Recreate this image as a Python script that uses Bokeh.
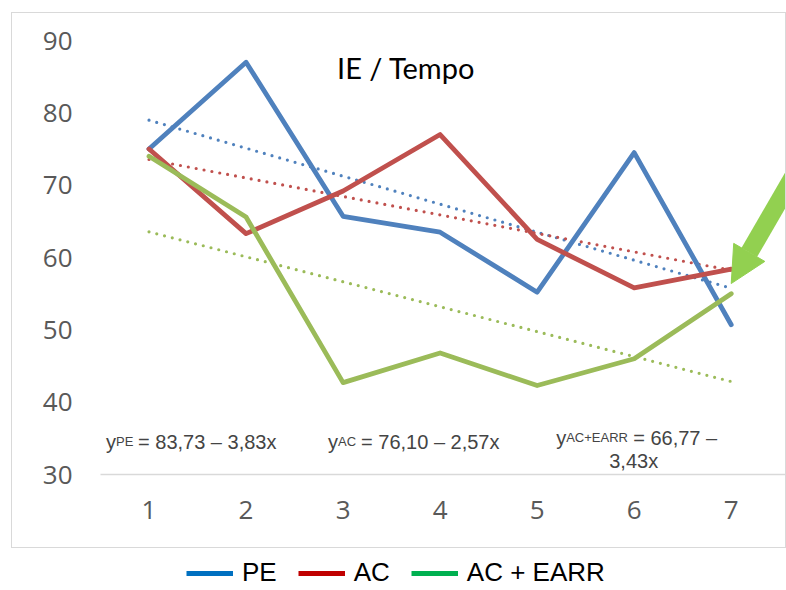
import numpy as np
from bokeh.plotting import figure
from bokeh.layouts import column
from bokeh.models import (Range1d, FixedTicker, Legend, LegendItem, Label, Arrow,
                          NormalHead)
from bokeh.embed import file_html
from bokeh.resources import INLINE

# ---- data ----
x_vals = [1, 2, 3, 4, 5, 6, 7]
pe = [75.0, 87.0, 65.7, 63.5, 55.2, 74.5, 50.7]
ac = [75.0, 63.3, 69.2, 77.0, 62.5, 55.8, 58.4]
ac_earr = [74.0, 65.6, 42.7, 46.8, 42.3, 46.0, 55.0]
series_names = ["PE", "AC", "AC + EARR"]
line_colors = ["#4F81BD", "#C0504D", "#9BBB59"]
legend_colors = ["#0070C0", "#C00000", "#00B050"]
y_ticks = [30, 40, 50, 60, 70, 80, 90]
title_text = "IE / Tempo"
eq_subs = ["PE", "AC", "AC+EARR"]
eq_rest = ["= 83,73 \u2013 3,83x", "= 76,10 \u2013 2,57x", "= 66,77 \u2013"]
eq3_line2 = "3,43x"

p = figure(width=775, height=536, output_backend="svg", toolbar_location=None,
           x_range=Range1d(0.5, 7.58), y_range=Range1d(30, 90),
           min_border_left=88, min_border_right=0, min_border_top=27,
           min_border_bottom=75)
p.margin = (12, 0, 0, 11)
p.styles = {"border": "1px solid #D9D9D9"}
p.outline_line_color = None
p.grid.grid_line_color = None
p.background_fill_color = "white"
p.border_fill_color = "white"

# axes
p.xaxis.ticker = FixedTicker(ticks=x_vals)
p.yaxis.ticker = FixedTicker(ticks=y_ticks)
for ax in (p.xaxis[0], p.yaxis[0]):
    ax.major_tick_line_color = None
    ax.minor_tick_line_color = None
    ax.major_label_text_font = "Open Sans"
    ax.major_label_text_font_size = "26px"
    ax.major_label_text_color = "#595959"
p.xaxis.axis_line_color = "#D9D9D9"
p.xaxis.axis_line_width = 1.5
p.xaxis.major_label_standoff = 20
p.yaxis.axis_line_color = None
p.yaxis.major_label_standoff = 22

# trend lines (linear fits of the series)
xs = np.array(x_vals, dtype=float)
for vals, col in zip([pe, ac, ac_earr], line_colors):
    slope, icpt = np.polyfit(xs, np.array(vals), 1)
    p.line(xs, icpt + slope * xs, line_color=col, line_width=3.2,
           line_dash="0 8", line_cap="round")

# series lines
for vals, col in zip([pe, ac, ac_earr], line_colors):
    p.line(x_vals, vals, line_color=col, line_width=4.8, line_cap="round",
           line_join="round")

# title
p.add_layout(Label(x=3.65, y=86.3, text=title_text, text_font="Lato",
                   text_font_size="29px", text_align="center",
                   text_baseline="middle", text_color="black"))

# equations
eq_x = [0.557, 2.845, 5.196]
eq_y = [34.5, 34.5, 35.1]
sub_w = [17, 18, 62]
for ex, ey, sub, rest, sw in zip(eq_x, eq_y, eq_subs, eq_rest, sub_w):
    p.add_layout(Label(x=ex, y=ey, text="y", text_font="Liberation Sans",
                       text_font_size="20px", text_baseline="alphabetic"))
    p.add_layout(Label(x=ex, y=ey, x_offset=10, text=sub, text_font="Liberation Sans",
                       text_font_size="13px", text_baseline="alphabetic"))
    p.add_layout(Label(x=ex, y=ey, x_offset=10 + sw + 5, text=rest,
                       text_font="Liberation Sans", text_font_size="20px",
                       text_baseline="alphabetic"))
p.add_layout(Label(x=5.995, y=31.93, text=eq3_line2, text_font="Liberation Sans",
                   text_font_size="20px", text_baseline="alphabetic",
                   text_align="center"))

# green arrow
p.add_layout(Arrow(end=NormalHead(size=36, fill_color="#92D050", line_color="#92D050"),
                   x_start=7.67, y_start=71.9, x_end=7.0, y_end=56.4,
                   line_color="#92D050", line_width=18))

# legend strip below the chart box
pl = figure(width=786, height=40, output_backend="svg", toolbar_location=None,
            x_range=Range1d(0, 1), y_range=Range1d(0, 1),
            x_axis_location=None, y_axis_location=None,
            min_border_left=0, min_border_right=0, min_border_top=0,
            min_border_bottom=0)
pl.grid.grid_line_color = None
pl.outline_line_color = None
items = []
for name, col in zip(series_names, legend_colors):
    # legend-only renderers: their points sit outside the strip's visible range
    r = pl.line(x=[5, 6], y=[5, 5], line_color=col, line_width=5)
    items.append(LegendItem(label=name, renderers=[r]))
legend = Legend(items=items, location=(98, 0), orientation="horizontal",
                glyph_width=47, glyph_height=28, label_text_font="Liberation Sans",
                label_text_font_size="26px", label_text_color="black",
                spacing=21, padding=0, margin=0, label_standoff=9,
                label_width=0, border_line_color=None, background_fill_alpha=0)
pl.add_layout(legend)

layout = column(p, pl, spacing=0)
open("out.html", "w").write(file_html(layout, INLINE))
